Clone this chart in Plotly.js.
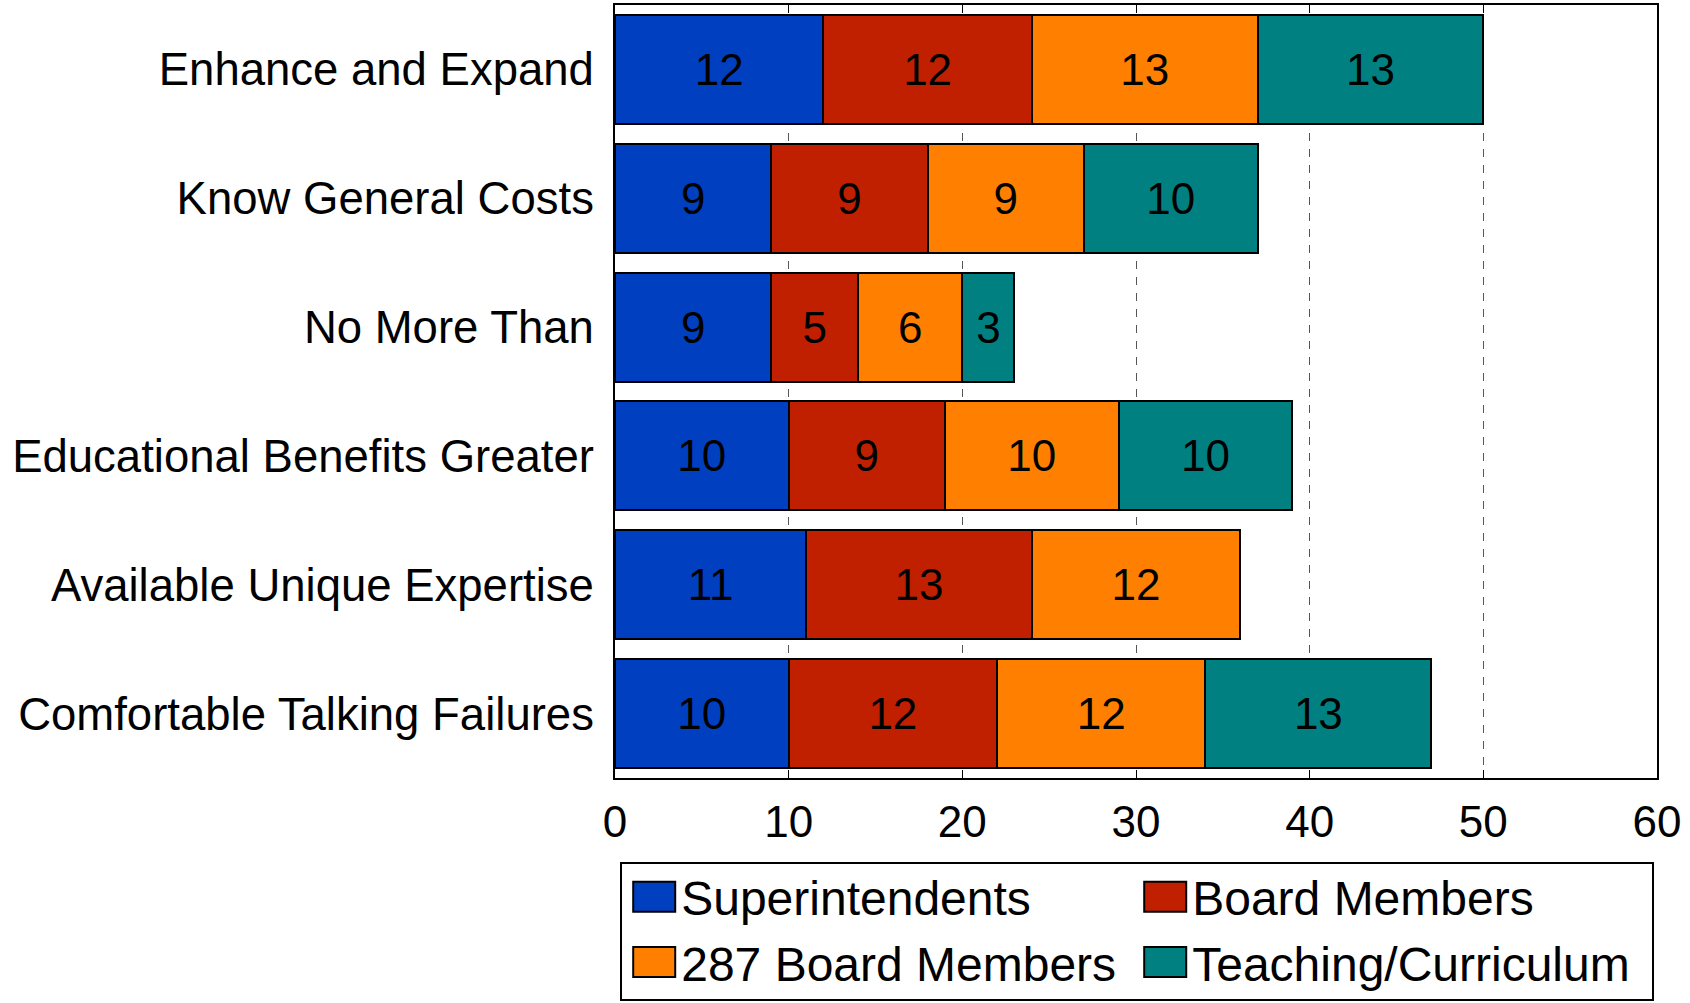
<!DOCTYPE html>
<html>
<head>
<meta charset="utf-8">
<script src="https://cdn.plot.ly/plotly-3.0.1.min.js"></script>
<style>
html, body { margin: 0; padding: 0; background: #fff; }
#chart { width: 1690px; height: 1003px; }
#chart .legend .legendpoints path {
  transform: translate(32px, -5px) scale(3.5, 2.5) !important;
  vector-effect: non-scaling-stroke;
  stroke-width: 2px !important;
}
#chart .legend text.legendtext { transform: translate(19px, -5px); }
#chart .legend rect.bg { width: 1032px !important; height: 137px !important; }
</style>
</head>
<body>
<div id="chart"></div>
<script>
const categories = [
  "Enhance and Expand",
  "Know General Costs",
  "No More Than",
  "Educational Benefits Greater",
  "Available Unique Expertise",
  "Comfortable Talking Failures"
];
const seriesNames = ["Superintendents", "Board Members", "287 Board Members", "Teaching/Curriculum"];
const superintendents = [12, 9, 9, 10, 11, 10];
const boardMembers = [12, 9, 5, 9, 13, 12];
const board287 = [13, 9, 6, 10, 12, 12];
const teaching = [13, 10, 3, 10, null, 13];
const xTicks = [0, 10, 20, 30, 40, 50, 60];

const colors = ["#0040C0", "#C02000", "#FF8000", "#008080"];
const values = [superintendents, boardMembers, board287, teaching];
const FONT = "Liberation Sans, Arial, Helvetica, sans-serif";

const traces = values.map((v, i) => ({
  type: "bar",
  orientation: "h",
  name: seriesNames[i],
  y: categories,
  x: v,
  text: v.map(d => d == null ? "" : String(d)),
  textposition: "inside",
  insidetextanchor: "middle",
  textangle: 0,
  textfont: { family: FONT, size: 44, color: "#000" },
  marker: { color: colors[i], line: { color: "#000", width: 2 } },
  hoverinfo: "skip"
}));

const layout = {
  width: 1690,
  height: 1003,
  margin: { l: 615, r: 33, t: 5, b: 225, autoexpand: false },
  paper_bgcolor: "#fff",
  plot_bgcolor: "#fff",
  barmode: "stack",
  bargap: 0.153,
  font: { family: FONT, size: 44, color: "#000" },
  showlegend: true,
  xaxis: {
    range: [0, 60],
    tickvals: xTicks,
    ticktext: xTicks.map(String),
    showgrid: true,
    gridcolor: "#555",
    gridwidth: 1,
    griddash: "8px,8px",
    zeroline: false,
    showline: true,
    linecolor: "#000",
    linewidth: 2,
    mirror: "ticks",
    ticks: "inside",
    ticklen: 8,
    tickcolor: "#000",
    tickfont: { family: FONT, size: 44, color: "#000" },
    ticklabelstandoff: 4
  },
  yaxis: {
    type: "category",
    autorange: "reversed",
    showgrid: false,
    zeroline: false,
    showline: true,
    linecolor: "#000",
    linewidth: 2,
    mirror: true,
    ticks: "",
    tickfont: { family: FONT, size: 45.5, color: "#000" },
    ticklabelstandoff: 10
  },
  legend: {
    orientation: "h",
    x: 0.005,
    xanchor: "left",
    yref: "container",
    y: 0.1406,
    yanchor: "top",
    traceorder: "normal",
    entrywidth: 466,
    entrywidthmode: "pixels",
    bordercolor: "#000",
    borderwidth: 2,
    bgcolor: "#fff",
    font: { family: FONT, size: 48, color: "#000" },
    itemclick: false,
    itemdoubleclick: false
  }
};

Plotly.newPlot("chart", traces, layout, { displayModeBar: false, staticPlot: true });
</script>
</body>
</html>
